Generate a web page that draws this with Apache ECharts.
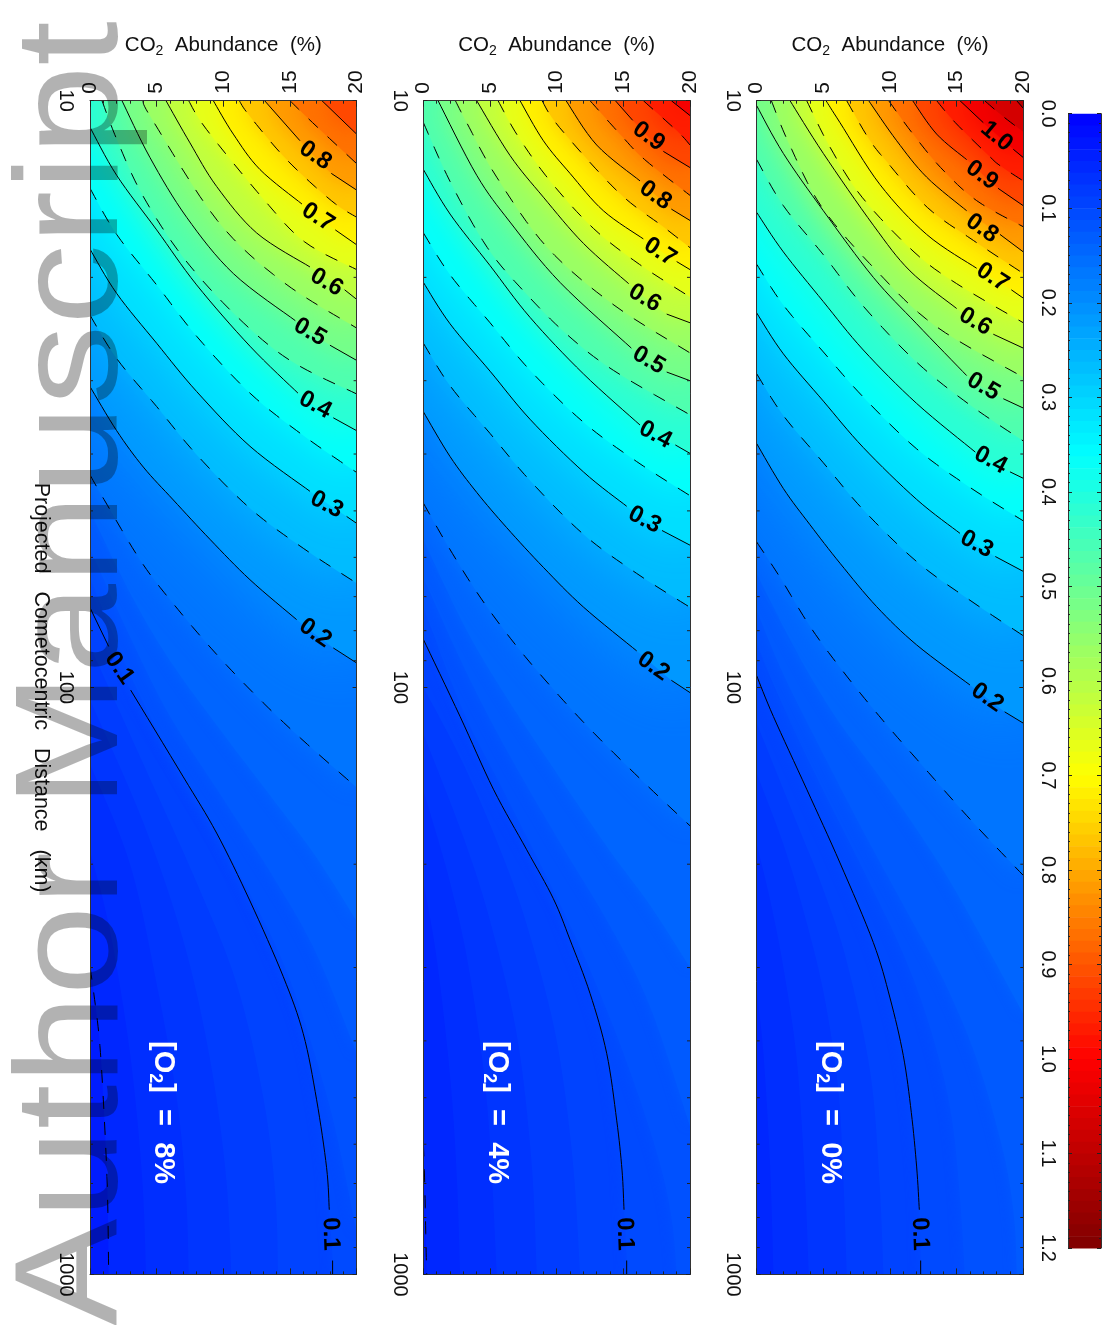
<!DOCTYPE html>
<html><head><meta charset="utf-8">
<style>html,body{margin:0;padding:0;background:#fff}#c{width:1112px;height:1325px}</style>
<script src="https://cdn.jsdelivr.net/npm/echarts@6/dist/echarts.min.js"></script>
</head><body><div id="c"></div>
<script>
const G = ['-','-']; // pen lift where a contour label sits

// Panel A: [O2] = 0%   contour points are [CO2 %, km]
const a006=[[0,330],[0.5,420],[1,650],[1.25,1000]];
const a007=[[0,185],[1,230],[2,300],[3,430],[3.6,680],[3.9,1000]];
const a008=[[0,140],[2,185],[3.5,240],[5,330],[6.1,480],[6.5,690],[6.75,1000]];
const a009=[[0,115],[3,170],[4.8,215],[6.7,290],[8.5,450],[9.2,690],[9.5,1000]];
const a010=[[0,95.5],[1.25,112],[3.75,149],[6.25,199],[8.75,272],[10,338],[11,424],[11.6,530],[12,656],[12.2,776],G,[12.3,947],[12.3,1000]];
const a011=[[0,84],[2,108],[5,150],[8,205],[11,285],[13,380],[14.5,520],[15.2,720],[15.6,1000]];
const a012=[[0,74],[2,95],[5,130],[8,176],[11,235],[14,315],[16.5,430],[18.5,620],[19.3,800],[19.5,1000]];
const a013=[[0,64],[3,87],[6,113],[10,150],[14,205],[17,270],[20,360]];
const a015=[[0,56.5],[1.75,64.9],[4.1,79.3],[6.75,95.6],[9.5,114],[12.45,136],[16.25,170],[20,209]];
const a020=[[0,38.4],[2,45.8],[4,52.8],[6.25,61.4],[9,72.8],[12,84.6],[16,99],G,[18.6,110],[20,115]];
const a025=[[0,29.2],[2,34.4],[5,41.4],[8,49.8],[12,61],[16,71],[20,81.6]];
const a030=[[0,23],[2,27],[5,32.5],[8,39],[12,47.8],[15.25,54.6],G,[17.9,59.8],[20,63.4]];
const a035=[[0,19],[2,22.3],[5,26.8],[8,32],[12,39.2],[16,45.6],[20,52]];
const a040=[[0,15.5],[2,18.1],[5,22],[8,26.6],[12,32.8],[16.4,39.7],G,[19,42.9],[20,44]];
const a045=[[0,12.6],[2,15.1],[5,18.3],[8,22.4],[12,27.9],[16,33],[20,38]];
const a050=[[0,10.2],[2,12.3],[5,15.4],[8.75,20],[12,24],[15.75,29.4],G,[18.5,32.2],[20,33.4]];
const a055=[[1.1,10],[2.4,11.8],[4.9,15.2],[9,19.5],[13.4,24.2],[20,29.6]];
const a060=[[2.5,10],[5,12.3],[8.75,16.3],[11.5,19.5],[15,22.6],G,[17.75,25],[20,26.4]];
const a065=[[3.75,10],[5.5,12],[7.9,14.6],[11.8,18.1],[15,20.5],[20,23.9]];
const a070=[[5.2,10],[6.25,10.9],[9.25,13.9],[12.75,16.9],[16.5,19.3],G,[19.1,21],[20,21.7]];
const a075=[[6.75,10],[8.4,11.6],[9.75,12.7],[12.8,15.2],[16.25,17.3],[20,19.7]];
const a080=[[8.4,10],[10.5,11.7],[12.75,13.5],[15.75,15.4],G,[18.25,16.9],[20,18.1]];
const a085=[[9.9,10],[11.6,11.3],[13.8,13],[16.5,14.8],[20,16.4]];
const a090=[[11.7,10],[13.5,11.4],[15.75,12.6],G,[18.1,14.1],[20,15.1]];
const a095=[[13.5,10],[14.9,10.9],[17.4,12.4],[18.25,12.9],[20,13.7]];
const a100=[[15.25,10],[17,10.9],G,[19.25,12.1],[20,12.5]];
const a105=[[17.1,10],[18.4,10.6],[20,11.3]];
const a110=[[19.5,10],[20,10.3]];

// Panel B: [O2] = 4%
const b005=[[0,598],[0.1,700],[0.2,900],[0.25,1000]];
const b006=[[0,215],[1,290],[2,460],[2.5,680],[2.75,1000]];
const b007=[[0,150],[2,215],[3.5,310],[4.8,520],[5.5,1000]];
const b008=[[0,120],[3,180],[5,250],[7,390],[8.1,640],[8.5,1000]];
const b009=[[0,100],[3,135],[6,195],[8,265],[10,400],[11.2,640],[11.75,1000]];
const b010=[[0,82.8],[2.75,112],[5.25,149],[7.75,189],[9.75,229],[11,269],[12.5,332],[13.75,420],[14.5,546],[14.9,664],[15.05,776],G,[15.25,947],[15.25,1000]];
const b011=[[0,73],[3,110],[6,150],[9,205],[12,285],[15,420],[17.5,620],[18.6,800],[19,1000]];
const b012=[[0,65],[3,92],[6,125],[10,180],[14,255],[17,350],[20,560]];
const b013=[[0,56],[3,78],[6,102],[10,140],[14,190],[17,235],[20,300]];
const b015=[[0,48.5],[1.9,57.7],[4.25,70.1],[6.9,84.5],[9.8,101],[12.8,119.6],[16.8,147],[20,172]];
const b020=[[0,33.9],[2,40.4],[4,46.5],[6.25,53.4],[9,62.4],[12,72.9],[16,86.6],G,[18.6,97.2],[20,102]];
const b025=[[0,25.9],[2,30.6],[5,36.9],[8,44.4],[12,54.8],[16,63.9],[20,73]];
const b030=[[0,20.4],[2,24],[5,28.9],[8,34.9],[12,42.9],[15.25,49.1],G,[17.9,54],[20,57.2]];
const b035=[[0,16.8],[2,19.8],[5,23.9],[8,28.8],[12,35.3],[16,41.2],[20,47.1]];
const b040=[[0,13.1],[2,15.6],[5,19.1],[8,23.4],[12,29.2],[16.25,35.7],G,[18.9,38.6],[20,39.9]];
const b045=[[0,10.9],[2.05,13.8],[4.8,17.8],[7.6,21.2],[10.75,25],[14.25,28.8],[20,34.3]];
const b050=[[1.1,10],[4,13.4],[6.5,16.1],[10.25,20.4],[15.6,26.4],G,[18.25,29],[20,30]];
const b055=[[2.4,10],[3.25,10.9],[5.5,13.5],[9.3,17.8],[14.3,22.3],[20,26.9]];
const b060=[[4,10],[6.5,12.4],[9,14.6],[12,17.5],[15.4,20.5],G,[18.25,23.1],[20,23.9]];
const b065=[[5.6,10],[7.1,11.5],[9.5,13.7],[12.75,16.5],[16.2,19],[20,21.6]];
const b070=[[7.25,10],[9,11.7],[11,13.3],[13.5,15.4],[16.5,17.2],G,[19,18.8],[20,19.4]];
const b075=[[8.9,10],[10.2,11.1],[14.6,14.3],[18,16.4],[20,17.8]];
const b080=[[10.7,10],[13,11.9],[16.25,13.7],G,[18.6,15.3],[20,16]];
const b085=[[12.5,10],[14.9,11.5],[16.6,12.6],[20,14.5]];
const b090=[[14.4,10],[15.7,10.8],G,[18,12.2],[20,13]];
const b095=[[16.5,10],[19.1,11.3],[20,11.9]];
const b100=[[18.6,10],[20,10.6]];

// Panel C: [O2] = 8%
const c005=[[0,299],[0.3,334],[0.7,397],[1,504],[1.3,712],[1.4,1000]];
const c006=[[0,190],[1.5,260],[3,420],[3.9,680],[4.2,1000]];
const c007=[[0,135],[3,200],[5,320],[6.5,500],[7.2,730],[7.4,1000]];
const c008=[[0,105],[4,170],[7,270],[9,430],[10.2,680],[10.6,1000]];
const c009=[[0,85],[4,135],[8,215],[11,320],[13,500],[13.9,730],[14.1,1000]];
const c010=[[0,73.1],[1.4,85.1],G,[3.05,101],[7,142],[9.5,177],[12,231],[14.5,311],[16,389],[17,504],[17.75,658],[17.95,776],G,[18.2,947],[18.2,1000]];
const c011=[[0,65],[3,95],[6,130],[9,170],[12,225],[15,315],[18,520],[20,850]];
const c012=[[0,58],[3,82],[6,112],[10,155],[14,215],[17,285],[20,420]];
const c013=[[0,50],[3,69],[6,90],[10,120],[14,158],[17,195],[20,250]];
const c015=[[0,43.4],[1.05,47.8],[3.9,61.3],[6.6,73.6],[9.5,87.8],[12.6,104],[15.8,122],[20,148]];
const c020=[[0,30.7],[2,36.5],[4,42.1],[6.25,47.9],[9,55.9],[12,65.5],[15.5,76.6],G,[18.25,85.6],[20,90.8]];
const c025=[[0,23.2],[2,27.5],[5,33.2],[8,40.1],[12,49.5],[16,57.9],[20,66.4]];
const c030=[[0,17.9],[2,21.3],[5,25.9],[8,31.3],[12,38.8],[16.5,46.3],G,[19.25,51.1],[20,52.5]];
const c035=[[0,14.1],[2,16.9],[5,20.6],[8,25.2],[12,31.5],[16,37.2],[20,43]];
const c040=[[0,11.1],[2,13.4],[5,16.6],[8,20.6],[12,26.2],[15.6,31.5],G,[18.25,34.7],[20,36.5]];
const c045=[[0.9,10],[2.05,11.7],[3.95,14.5],[7,18.5],[11,23.3],[15,27.7],[20,31.6]];
const c050=[[2.4,10],[4.5,12.5],[7.25,15.8],[10.75,19.7],[15.4,23.7],G,[18,26.1],[20,27.7]];
const c055=[[3.95,10],[4.7,10.8],[9.55,16],[14.4,20.3],[20,24.4]];
const c060=[[5.7,10],[7.5,11.8],[9.5,14],[12.5,16.8],[16.5,19.2],G,[19.1,21],[20,21.8]];
const c065=[[7.4,10],[8.75,11.2],[13,14.7],[16.1,17.4],[20,19.4]];
const c070=[[9.25,10],[10.75,11.4],[12.75,13.1],[15.9,15],G,[18.4,16.6],[20,17.6]];
const c075=[[11.2,10],[11.95,10.6],[14.75,12.6],[18.1,14.8],[20,15.8]];
const c080=[[13.1,10],[15.75,11.7],G,[18.1,13.3],[20,14.2]];
const c085=[[15,10],[16.7,10.9],[20,12.8]];
const c090=[[17.4,10],[20,11.4]];

// Contour labels: text, CO2 %, km
const labelsA=[['1.0',18,11.5],['0.9',16.9,13.4],['0.8',16.9,16.5],['0.7',17.7,20],['0.6',16.4,23.8],['0.5',17,30.7],['0.4',17.55,41],['0.3',16.5,57],['0.2',17.3,104],['0.1',12.25,853]];
const labelsB=[['0.9',16.9,11.5],['0.8',17.4,14.5],['0.7',17.75,18.1],['0.6',16.6,21.7],['0.5',16.9,27.7],['0.4',17.4,37.1],['0.3',16.6,51.8],['0.2',17.25,92],['0.1',15.1,853]];
const labelsC=[['0.8',16.9,12.4],['0.7',17.1,15.8],['0.6',17.75,20.4],['0.5',16.5,24.8],['0.4',16.9,33],['0.3',17.75,48.8],['0.2',16.9,80.8],['0.1',2.2,92.7],['0.1',18.05,853]];

// Axes and key
const co2Range=[0,20];
const distanceRange=[10,1000];
const distanceMinorTicks=[20,30,40,50,60,70,80,90,200,300,400,500,600,700,800,900];
const colorStops=[[0,'#0000ff'],[0.36,'#00ffff'],[0.70,'#ffff00'],[1.0,'#ff0000'],[1.2,'#7f0000']];
const colorbarRange=[0,1.2];
const o2Tags=['0%','4%','8%'];

function hex(c){return [1,3,5].map(i=>parseInt(c.substr(i,2),16));}
function cmap(v){
  v=Math.max(0,Math.min(1.2,v));
  for(let i=1;i<colorStops.length;i++){
    if(v<=colorStops[i][0]){
      const [a,ca]=colorStops[i-1],[b,cb]=colorStops[i],t=(v-a)/(b-a);
      const A=hex(ca),B=hex(cb);
      return 'rgb('+A.map((x,k)=>Math.round(x+(B[k]-x)*t)).join(',')+')';
    }
  }
  return colorStops[colorStops.length-1][1];
}

const FONT='"Liberation Sans", Arial, sans-serif';
const panels=[
 {left:756.7,base:0.055,labels:labelsA,tag:o2Tags[0],angles:[-40,-36,-35,-33,-30,-30,-28,-28,-35,-88],
  fills:[[.06,a006],[.07,a007],[.08,a008],[.09,a009],[.11,a011],[.12,a012],[.135,a013]],
  lines:[[.10,a010],[.15,a015],[.20,a020],[.25,a025],[.30,a030],[.35,a035],[.40,a040],[.45,a045],[.50,a050],[.55,a055],[.60,a060],[.65,a065],[.70,a070],[.75,a075],[.80,a080],[.85,a085],[.90,a090],[.95,a095],[1.00,a100],[1.05,a105],[1.10,a110]]},
 {left:423.4,base:0.045,labels:labelsB,tag:o2Tags[1],angles:[-36,-35,-33,-30,-30,-28,-28,-35,-88],
  fills:[[.06,b006],[.07,b007],[.08,b008],[.09,b009],[.11,b011],[.12,b012],[.135,b013]],
  lines:[[.05,b005],[.10,b010],[.15,b015],[.20,b020],[.25,b025],[.30,b030],[.35,b035],[.40,b040],[.45,b045],[.50,b050],[.55,b055],[.60,b060],[.65,b065],[.70,b070],[.75,b075],[.80,b080],[.85,b085],[.90,b090],[.95,b095],[1.00,b100]]},
 {left:90,base:0.04,labels:labelsC,tag:o2Tags[2],angles:[-35,-33,-30,-30,-28,-28,-35,-55,-88],
  fills:[[.06,c006],[.07,c007],[.08,c008],[.09,c009],[.11,c011],[.12,c012],[.135,c013]],
  lines:[[.05,c005],[.10,c010],[.15,c015],[.20,c020],[.25,c025],[.30,c030],[.35,c035],[.40,c040],[.45,c045],[.50,c050],[.55,c055],[.60,c060],[.65,c065],[.70,c070],[.75,c075],[.80,c080],[.85,c085],[.90,c090]]}
];
const TOP=100.7,H=1173.7,W=266.6;
const grid=[],xAxis=[],yAxis=[],series=[];

function spline(p){
  if(p.length<3) return p;
  const out=[];
  for(let i=0;i<p.length-1;i++){
    const p0=p[Math.max(i-1,0)],p1=p[i],p2=p[i+1],p3=p[Math.min(i+2,p.length-1)];
    for(let s=0;s<8;s++){
      const t=s/8,t2=t*t,t3=t2*t;
      out.push([0,1].map(k=>0.5*(2*p1[k]+(p2[k]-p0[k])*t+(2*p0[k]-5*p1[k]+4*p2[k]-p3[k])*t2+(3*p1[k]-p0[k]-3*p2[k]+p3[k])*t3)));
    }
  }
  out.push(p[p.length-1]);
  return out;
}
function blurFor(L){
  if(L<0.1) return 0;
  if(L<0.15) return 12;
  if(L<0.2) return 20;
  if(L<0.25) return 70;
  if(L<0.3) return 55;
  if(L<0.35) return 45;
  if(L<0.45) return 38;
  if(L<0.6) return 30;
  return 24;
}

panels.forEach((P,i)=>{
  grid.push({left:P.left,top:TOP,width:W,height:H,show:false});
  const xi=i*2,yi=i*2;
  const xLine={lineStyle:{color:'#333',width:1}};
  xAxis.push({gridIndex:i,type:'value',position:'top',min:co2Range[0],max:co2Range[1],interval:5,z:10,
    name:'{a|CO}{s|2}{a|  Abundance  (%)}',nameLocation:'middle',nameGap:43,
    nameTextStyle:{rich:{a:{fontSize:20.5,fontFamily:FONT,color:'#111',lineHeight:24},s:{fontSize:14,fontFamily:FONT,color:'#111',verticalAlign:'bottom',lineHeight:20}}},
    axisLine:{show:true,onZero:false,...xLine},splitLine:{show:false},
    axisTick:{show:true,inside:true,length:6,lineStyle:{color:'#222'}},
    minorTick:{show:true,splitNumber:5,length:3,lineStyle:{color:'#222'}},
    axisLabel:{show:true,rotate:-90,margin:7,fontSize:21,fontFamily:FONT,color:'#111',hideOverlap:false,showMinLabel:true,showMaxLabel:true}});
  xAxis.push({gridIndex:i,type:'value',position:'bottom',min:co2Range[0],max:co2Range[1],interval:5,z:10,
    axisLine:{show:true,onZero:false,...xLine},splitLine:{show:false},axisLabel:{show:false},
    axisTick:{show:true,inside:true,length:6,lineStyle:{color:'#222'}},
    minorTick:{show:true,splitNumber:5,length:3,lineStyle:{color:'#222'}}});
  const yName=i===2?{name:'Projected   Cometocentric   Distance   (km)',nameLocation:'middle',nameGap:38,nameRotate:-90,nameTextStyle:{fontSize:21.5,fontFamily:FONT,color:'#111'}}:{};
  yAxis.push({gridIndex:i,type:'log',logBase:10,position:'left',inverse:true,min:distanceRange[0],max:distanceRange[1],z:10,...yName,
    axisLine:{show:true,onZero:false,...xLine},splitLine:{show:false},minorTick:{show:false},
    axisTick:{show:true,inside:true,length:4,lineStyle:{color:'#222'}},
    axisLabel:{show:true,rotate:-90,margin:14,fontSize:20,fontFamily:FONT,color:'#111',showMinLabel:true,showMaxLabel:true,hideOverlap:false,formatter:v=>String(Math.round(v))}});
  yAxis.push({gridIndex:i,type:'log',logBase:10,position:'right',inverse:true,min:distanceRange[0],max:distanceRange[1],z:10,
    axisLine:{show:true,onZero:false,...xLine},splitLine:{show:false},minorTick:{show:false},axisLabel:{show:false},
    axisTick:{show:true,inside:true,length:4,lineStyle:{color:'#222'}}});

  const ax={xAxisIndex:xi,yAxisIndex:yi};
  // Filled bands, lowest first, each painted over the one before it
  const all=P.fills.concat(P.lines).sort((a,b)=>a[0]-b[0]);
  const bands=all.map((b,k)=>{
    const next=k<all.length-1?all[k+1][0]:b[0]+0.05;
    return {level:b[0],next,pts:b[1].filter(p=>p!==G)};
  });
  series.push({type:'custom',...ax,z:1,clip:true,silent:true,animation:false,
    encode:{x:0,y:1},
    data:[[0,10,-1]].concat(bands.map((b,k)=>[b.pts[0][0],b.pts[0][1],k])),
    renderItem(params,api){
      const k=api.value(2);
      if(k<0){
        const c=params.coordSys;
        return {type:'rect',shape:{x:c.x,y:c.y,width:c.width,height:c.height},style:{fill:cmap(P.base)}};
      }
      const b=bands[k];
      const pix=spline(b.pts.map(p=>api.coord(p)));
      const first=b.pts[0],last=b.pts[b.pts.length-1];
      if(last[1]>=distanceRange[1]) pix.push(api.coord([co2Range[1],distanceRange[1]]));
      pix.push(api.coord([co2Range[1],distanceRange[0]]));
      if(first[0]===co2Range[0]) pix.push(api.coord([co2Range[0],distanceRange[0]]));
      const v=b.level+(b.next-b.level)*(b.level>=0.15?0.3:0.5);
      const col=cmap(v);
      return {type:'polygon',shape:{points:pix},style:{fill:col,shadowBlur:blurFor(b.level),shadowColor:col}};
    }});
  // Contour lines: each unbroken run is one smooth stroke, solid or dashed by level
  const runs=[];
  P.lines.forEach(([lvl,data])=>{
    const solid=Math.round(lvl*100)%10===0;
    let cur=[];
    data.forEach(p=>{
      if(p===G){runs.push({solid,pts:cur});cur=[];}
      else cur.push(p);
    });
    runs.push({solid,pts:cur});
  });
  series.push({type:'custom',...ax,z:5,clip:true,silent:true,animation:false,encode:{x:0,y:1},
    data:runs.map((r,k)=>[r.pts[0][0],r.pts[0][1],k]),
    renderItem(params,api){
      const r=runs[api.value(2)];
      return {type:'polyline',shape:{points:spline(r.pts.map(p=>api.coord(p)))},
        style:{fill:null,stroke:'#000',lineWidth:1,lineDash:r.solid?null:[13,13]}};
    }});
  // Minor log ticks on both sides
  series.push({type:'custom',...ax,z:9,silent:true,animation:false,encode:{y:1},
    data:distanceMinorTicks.map(d=>[0,d]),
    renderItem(params,api){
      const y=api.coord([0,api.value(1)])[1],c=params.coordSys;
      const st={stroke:'#222',lineWidth:1};
      return {type:'group',children:[
        {type:'line',shape:{x1:c.x,y1:y,x2:c.x+3,y2:y},style:st},
        {type:'line',shape:{x1:c.x+c.width-3,y1:y,x2:c.x+c.width,y2:y},style:st}]};
    }});
  // Contour labels
  series.push({type:'scatter',...ax,z:7,symbolSize:0,silent:true,animation:false,itemStyle:{opacity:1},
    data:P.labels.map((l,k)=>({value:[l[1],l[2]],label:{show:true,position:'inside',formatter:l[0],rotate:P.angles[k],fontSize:24,fontWeight:'bold',fontFamily:FONT,color:'#000',opacity:1}}))});
  // Panel tag
  series.push({type:'scatter',...ax,z:7,symbolSize:0,silent:true,animation:false,itemStyle:{opacity:1},
    data:[{value:[5.5,530],label:{show:true,position:'inside',rotate:-90,opacity:1,formatter:'{t|[O}{s|2}{t|]  =  '+P.tag+'}',
      rich:{t:{fontSize:29,fontWeight:'bold',fontFamily:FONT,color:'#fff',lineHeight:34},s:{fontSize:18,fontWeight:'bold',fontFamily:FONT,color:'#fff',verticalAlign:'bottom',lineHeight:27}}}}]});
});

// Colour key
const cbIdx=3;
grid.push({left:1068,top:113.7,width:33,height:1134.3,show:false});
xAxis.push({gridIndex:cbIdx,type:'value',min:0,max:1,show:false});
const cbAxisCommon={gridIndex:cbIdx,type:'value',inverse:true,min:colorbarRange[0],max:colorbarRange[1],interval:0.1,z:10,
  splitLine:{show:false},axisLine:{show:true,onZero:false,lineStyle:{color:'#333',width:1}},
  axisTick:{show:true,inside:true,length:4,lineStyle:{color:'#222'}},minorTick:{show:true,splitNumber:10,length:2,lineStyle:{color:'#222'}}};
yAxis.push({...cbAxisCommon,position:'left',axisLabel:{show:true,rotate:-90,margin:10,fontSize:20,fontFamily:FONT,color:'#111',formatter:v=>v.toFixed(1),showMinLabel:true,showMaxLabel:true,hideOverlap:false}});
yAxis.push({...cbAxisCommon,position:'right',axisLabel:{show:false}});
const cbStep=0.0125,cbCells=[];
for(let k=0;k<96;k++) cbCells.push([0,k*cbStep]);
series.push({type:'custom',xAxisIndex:6,yAxisIndex:6,z:1,silent:true,animation:false,encode:{y:1},data:cbCells,
  renderItem(params,api){
    const v=api.value(1),c=params.coordSys;
    const y0=api.coord([0,v])[1],y1=api.coord([0,v+cbStep])[1];
    return {type:'rect',shape:{x:c.x,y:y0,width:c.width,height:y1-y0+0.6},style:{fill:cmap(v+cbStep/2)}};
  }});

const chart=echarts.init(document.getElementById('c'),null,{renderer:'canvas'});
chart.setOption({animation:false,backgroundColor:'#fff',grid,xAxis,yAxis,series,
  graphic:[{type:'text',z:100,silent:true,x:150,y:1326,rotation:Math.PI/2,scaleX:1.094,scaleY:1,
    style:{text:'Author Manuscript',fontFamily:FONT,fontSize:147,fill:'rgba(0,0,0,0.3)',textAlign:'left',textVerticalAlign:'bottom'}}]});
</script></body></html>
